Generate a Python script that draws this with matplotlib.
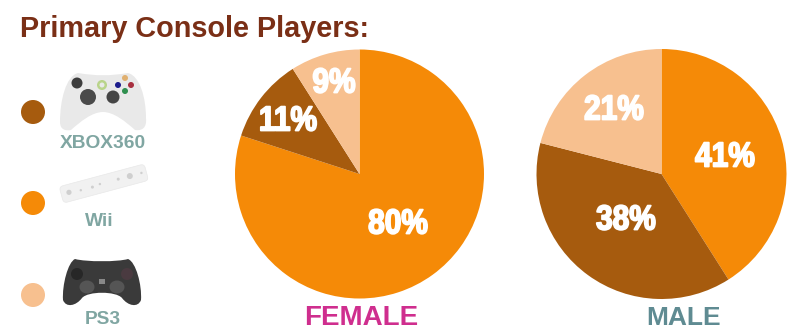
import matplotlib
matplotlib.use("Agg")
from matplotlib import pyplot as plt
from matplotlib import patheffects as pe
from matplotlib.patches import Circle, Ellipse, FancyBboxPatch, PathPatch, Rectangle
from matplotlib.path import Path
from matplotlib.transforms import Affine2D

consoles = ["Wii", "XBOX360", "PS3"]
female_share = [80, 11, 9]
male_share = [41, 38, 21]
genders = ["FEMALE", "MALE"]
title = "Primary Console Players:"

WIDTH, HEIGHT = 799, 333
colors = {"Wii": "#f58a07", "XBOX360": "#a65b0e", "PS3": "#f7c08f"}

plt.rcParams["font.family"] = ["Liberation Sans", "DejaVu Sans"]


class Squeezed(pe.AbstractPathEffect):
    # narrows a text path around its own centre and fattens it with a stroke
    def __init__(self, xscale, stroke):
        super().__init__()
        self.xscale = xscale
        self.stroke = stroke

    def draw_path(self, renderer, gc, tpath, affine, rgbFace=None):
        box = tpath.transformed(affine).get_extents()
        cx = (box.x0 + box.x1) / 2
        squeezed = affine + Affine2D().translate(-cx, 0).scale(self.xscale, 1).translate(cx, 0)
        gc0 = renderer.new_gc()
        gc0.copy_properties(gc)
        gc0.set_linewidth(self.stroke)
        gc0.set_foreground(rgbFace)
        renderer.draw_path(gc0, tpath, squeezed, rgbFace)
        gc0.restore()


def add_pie(fig, values, cx, cy, r):
    # pie axes placed by pixel centre and radius
    ax = fig.add_axes([(cx - r) / WIDTH, 1 - (cy + r) / HEIGHT, 2 * r / WIDTH, 2 * r / HEIGHT])
    ax.pie(values, colors=[colors[c] for c in consoles], startangle=90, counterclock=False,
           radius=1, wedgeprops={"edgecolor": "none"})
    ax.set_xlim(-1, 1)
    ax.set_ylim(-1, 1)


def pct_label(ax, value, x, y):
    ax.text(x, y, f"{value}%", color="white", fontsize=25, fontweight="bold",
            ha="center", va="center", zorder=5, path_effects=[Squeezed(0.86, 1.3)])


def shape(ax, verts, color, zorder=2):
    codes = [Path.MOVETO] + [Path.CURVE4] * (len(verts) - 1)
    ax.add_patch(PathPatch(Path(verts, codes), facecolor=color, edgecolor="none", zorder=zorder))


def draw_xbox(ax):
    shape(ax, [(78, 73), (66, 76), (60, 100), (60, 122),
               (60, 130), (66, 131), (71, 130),
               (80, 122), (92, 112), (103, 112),
               (114, 112), (126, 122), (135, 130),
               (142, 131), (147, 128), (146, 118),
               (146, 98), (140, 76), (128, 73),
               (110, 76), (96, 76), (78, 73)], "#e9e9e9")
    for x, y, r, c in [(77, 83, 5.5, "#3d3d3d"), (88, 97, 8, "#4a4a4a"), (113, 97, 6.5, "#454545"),
                       (102, 85, 5, "#b9d48a"), (118, 85, 3, "#1c1c8c"), (131, 85, 3, "#a83040"),
                       (125, 91, 3, "#2f8f4f"), (125, 78, 3, "#e0b070")]:
        ax.add_patch(Circle((x, y), r, facecolor=c, edgecolor="none", zorder=3))
    ax.add_patch(Circle((102, 85), 2.5, facecolor="#e9e9e9", edgecolor="none", zorder=4))


def draw_wii(ax):
    rot = Affine2D().rotate_deg_around(104, 184, -15) + ax.transData
    ax.add_patch(FancyBboxPatch((60, 175), 88, 17, boxstyle="round,pad=0,rounding_size=4",
                                facecolor="#f1f1f1", edgecolor="#e8e8e8", linewidth=0.5,
                                transform=rot, zorder=2))
    for x, y, r in [(68, 183, 2.6), (80, 184, 1.2), (92, 184, 1.5), (100, 183, 1.2),
                    (119, 183, 1.5), (131, 183, 3), (143, 183, 1.2)]:
        ax.add_patch(Circle((x, y), r, facecolor="#cfcfcf", edgecolor="none", transform=rot, zorder=3))


def draw_ps3(ax):
    shape(ax, [(75, 259), (68, 262), (62, 285), (63, 300),
               (66, 308), (76, 306), (82, 298),
               (88, 291), (116, 291), (122, 298),
               (128, 306), (138, 308), (141, 300),
               (142, 285), (136, 262), (128, 259),
               (118, 262), (86, 262), (75, 259)], "#3a3a3a")
    ax.add_patch(Ellipse((87, 287), 15, 13, facecolor="#555555", edgecolor="none", zorder=3))
    ax.add_patch(Ellipse((117, 287), 15, 13, facecolor="#555555", edgecolor="none", zorder=3))
    ax.add_patch(Circle((77, 274), 6, facecolor="#272727", edgecolor="none", zorder=3))
    ax.add_patch(Circle((127, 274), 6, facecolor="#4a3a40", edgecolor="none", zorder=3))
    ax.add_patch(Rectangle((99, 279), 6, 5, facecolor="#888888", edgecolor="none", zorder=3))


fig = plt.figure(figsize=(WIDTH / 100, HEIGHT / 100), dpi=100, facecolor="white")

add_pie(fig, female_share, 359.5, 174, 124.5)
add_pie(fig, male_share, 661.5, 174, 125)

# overlay in pixel coordinates for the legend, captions and labels
ax = fig.add_axes([0, 0, 1, 1], facecolor="none")
ax.set_xlim(0, WIDTH)
ax.set_ylim(HEIGHT, 0)
ax.axis("off")

ax.text(20, 29, title, color="#7a2f16", fontsize=20.8, fontweight="bold", ha="left", va="center")

draw_xbox(ax)
draw_wii(ax)
draw_ps3(ax)

legend_order = ["XBOX360", "Wii", "PS3"]
legend_dot_y = [112, 203, 295]
legend_text_pos = [(103, 143), (99, 222), (103, 320)]
for name, dot_y, (tx, ty) in zip(legend_order, legend_dot_y, legend_text_pos):
    ax.add_patch(Circle((33, dot_y), 12, facecolor=colors[name], edgecolor="none"))
    ax.text(tx, ty, name, color="#80a6a2", fontsize=13.8, fontweight="bold", ha="center", va="center")

female_pos = [(398, 224), (288, 121), (334, 83)]
male_pos = [(725, 157), (626, 220), (614, 110)]
for value, (x, y) in zip(female_share, female_pos):
    pct_label(ax, value, x, y)
for value, (x, y) in zip(male_share, male_pos):
    pct_label(ax, value, x, y)

ax.text(361, 318, genders[0], color="#cf2e8e", fontsize=20, fontweight="bold", ha="center", va="center")
ax.text(684, 318, genders[1], color="#5f8b92", fontsize=19, fontweight="bold", ha="center", va="center")

fig.savefig("out.png", dpi=100)
